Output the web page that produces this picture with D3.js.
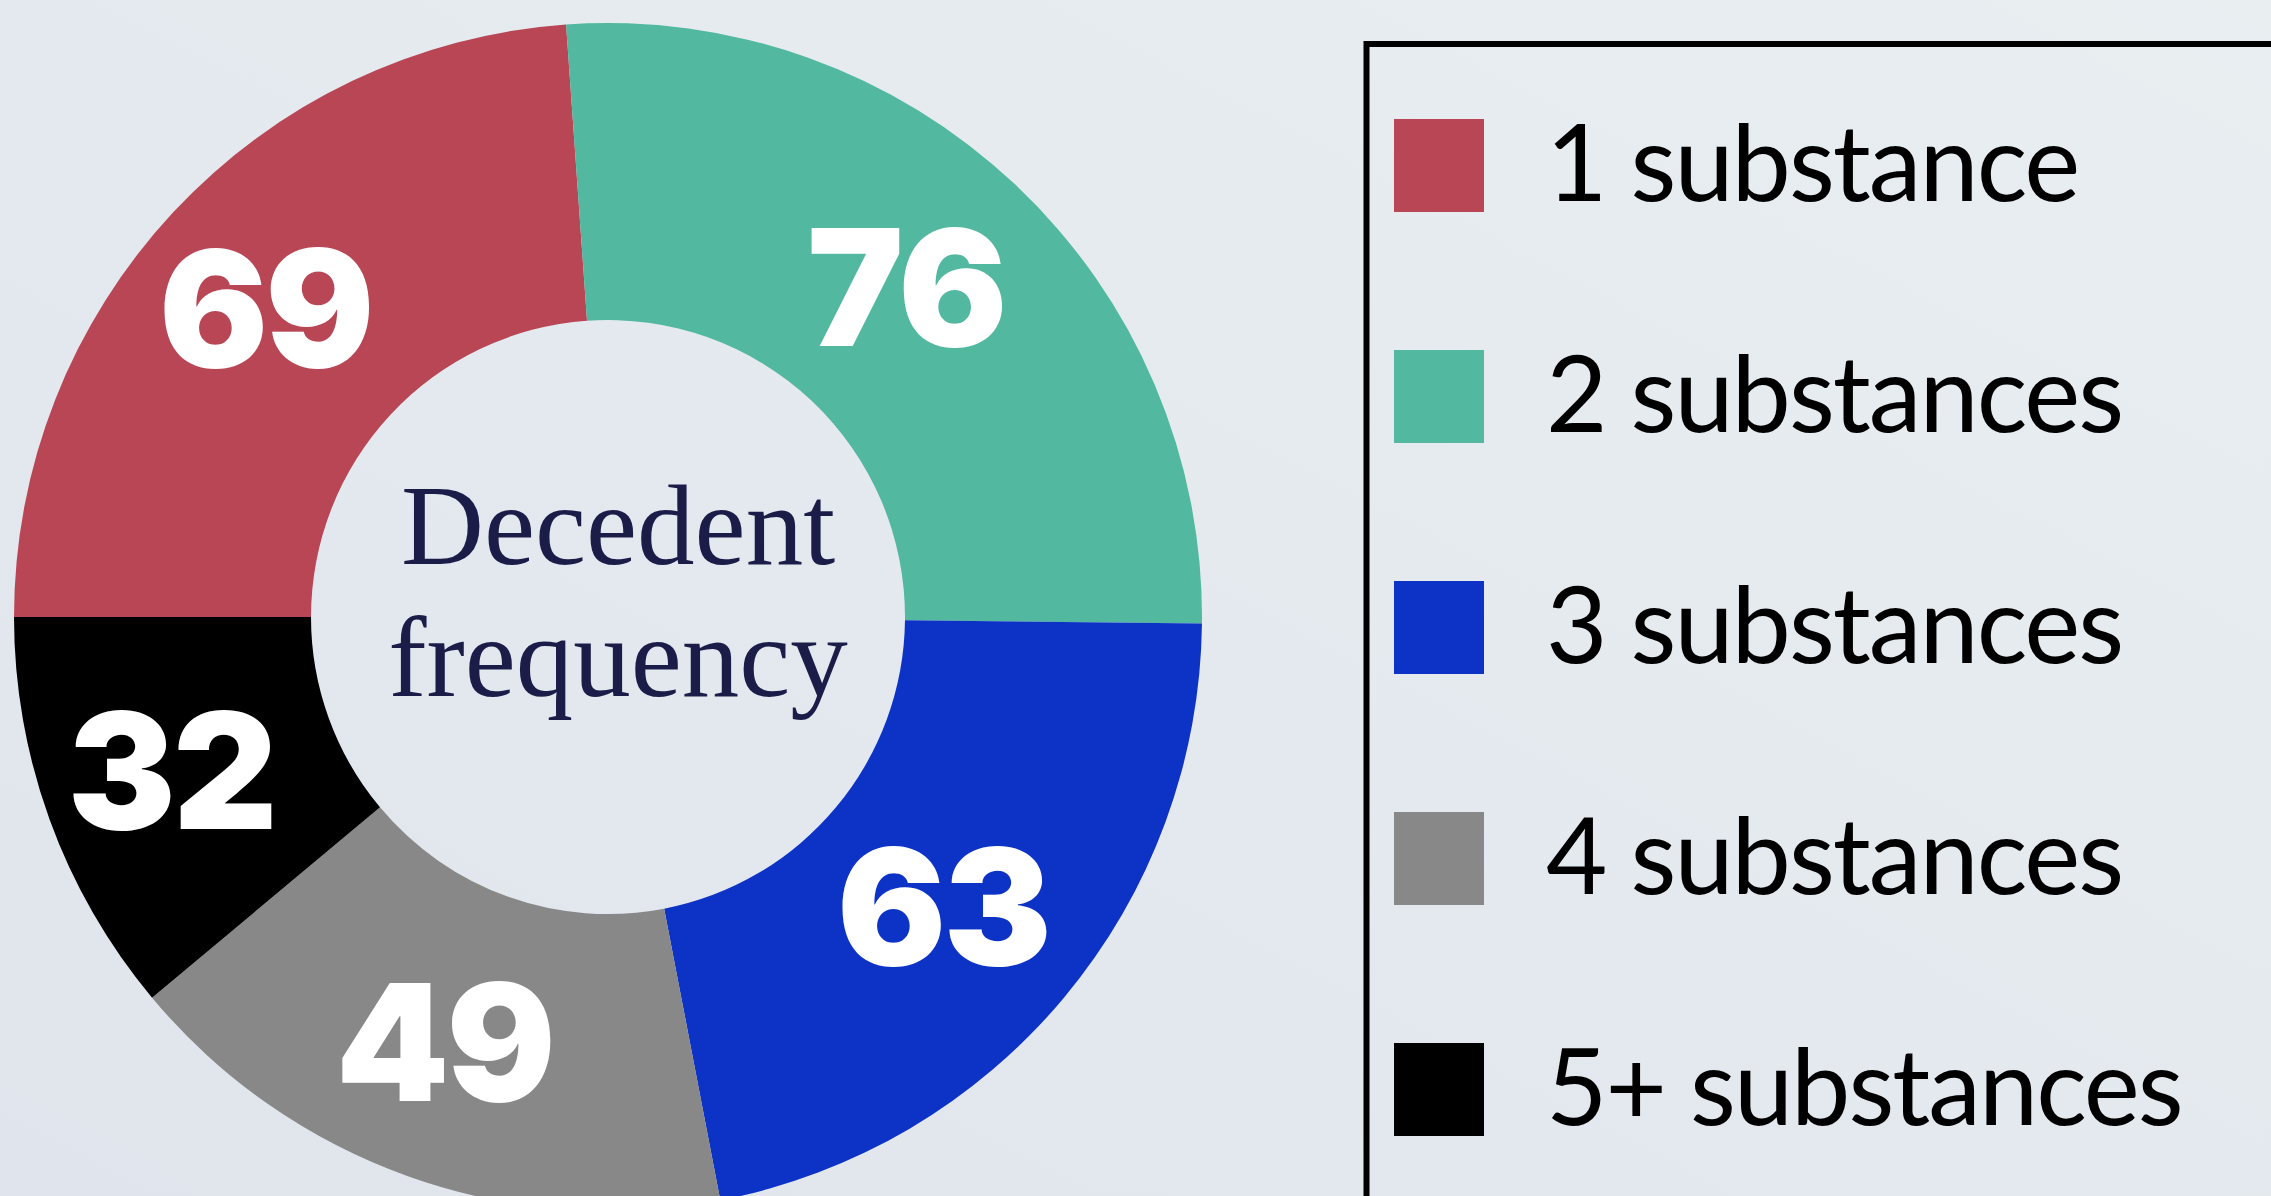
<!DOCTYPE html>
<html>
<head>
<meta charset="utf-8">
<script src="https://cdn.jsdelivr.net/npm/d3@7"></script>
<style>
  html, body { margin: 0; padding: 0; overflow: hidden; }
  svg { display: block; }
</style>
</head>
<body>
<div id="chart"></div>
<script>
// data
var categories = ["1 substance", "2 substances", "3 substances", "4 substances", "5+ substances"];
var counts = [69, 76, 63, 49, 32];
var colors = ["#b84655", "#52b8a0", "#0d33c6", "#888888", "#000000"];
var centerLines = ["Decedent", "frequency"];

var svgWidth = 2271;
var svgHeight = 1196;

var cx = 608, cy = 617;
var outerR = 594, innerR = 297;

var svg = d3.select("#chart").append("svg")
    .attr("width", svgWidth)
    .attr("height", svgHeight);

// soft background
var grad = svg.append("defs").append("linearGradient")
    .attr("id", "bg")
    .attr("x1", "0%").attr("y1", "100%")
    .attr("x2", "100%").attr("y2", "0%");
grad.append("stop").attr("offset", "0%").attr("stop-color", "#e0e5ed");
grad.append("stop").attr("offset", "100%").attr("stop-color", "#e9eef1");

svg.append("rect")
    .attr("width", svgWidth)
    .attr("height", svgHeight)
    .attr("fill", "url(#bg)");

var data = categories.map(function(c, i) {
    return {name: c, value: counts[i], color: colors[i]};
});

var pie = d3.pie()
    .sort(null)
    .value(function(d) { return d.value; })
    .startAngle(-Math.PI / 2)
    .endAngle(3 * Math.PI / 2);

var arc = d3.arc()
    .innerRadius(innerR)
    .outerRadius(outerR);

var labelArc = d3.arc()
    .innerRadius(452)
    .outerRadius(452);

var donut = svg.append("g")
    .attr("transform", "translate(" + cx + "," + cy + ")");

var slices = pie(data);

donut.selectAll("path.slice")
    .data(slices)
    .enter().append("path")
    .attr("class", "slice")
    .attr("d", arc)
    .attr("fill", function(d) { return d.data.color; });

donut.selectAll("text.value")
    .data(slices)
    .enter().append("text")
    .attr("class", "value")
    .attr("transform", function(d) { return "translate(" + labelArc.centroid(d) + ")"; })
    .attr("text-anchor", "middle")
    .attr("dx", -12)
    .attr("dy", "0.36em")
    .style("font-family", "Inter, Roboto, sans-serif")
    .style("font-weight", 900)
    .style("font-size", "162px")
    .style("letter-spacing", "-3px")
    .attr("fill", "#ffffff")
    .text(function(d) { return d.data.value; });

// centre title
donut.selectAll("text.title")
    .data(centerLines)
    .enter().append("text")
    .attr("class", "title")
    .attr("x", 10)
    .attr("y", function(d, i) { return -53 + i * 132; })
    .attr("text-anchor", "middle")
    .style("font-family", "'Liberation Serif', 'DejaVu Serif', serif")
    .style("font-size", "115px")
    .attr("fill", "#1b1c48")
    .text(function(d) { return d; });

// legend box (runs off the right and bottom edges)
svg.append("rect")
    .attr("x", 1366.5)
    .attr("y", 44)
    .attr("width", 1000)
    .attr("height", 1300)
    .attr("fill", "none")
    .attr("stroke", "#000")
    .attr("stroke-width", 6);

var legendY = d3.scalePoint()
    .domain(categories)
    .range([119, 1043]);

var legend = svg.append("g").attr("class", "legend");

var rows = legend.selectAll("g.row")
    .data(data)
    .enter().append("g")
    .attr("class", "row")
    .attr("transform", function(d) { return "translate(1394," + legendY(d.name) + ")"; });

rows.append("rect")
    .attr("width", 90)
    .attr("height", 93)
    .attr("fill", function(d) { return d.color; });

rows.append("text")
    .attr("x", 152)
    .attr("y", 82)
    .style("font-family", "Lato, 'Open Sans', sans-serif")
    .style("font-size", "106px")
    .style("letter-spacing", "-2px")
    .attr("fill", "#000")
    .text(function(d) { return d.name; });
</script>
</body>
</html>
